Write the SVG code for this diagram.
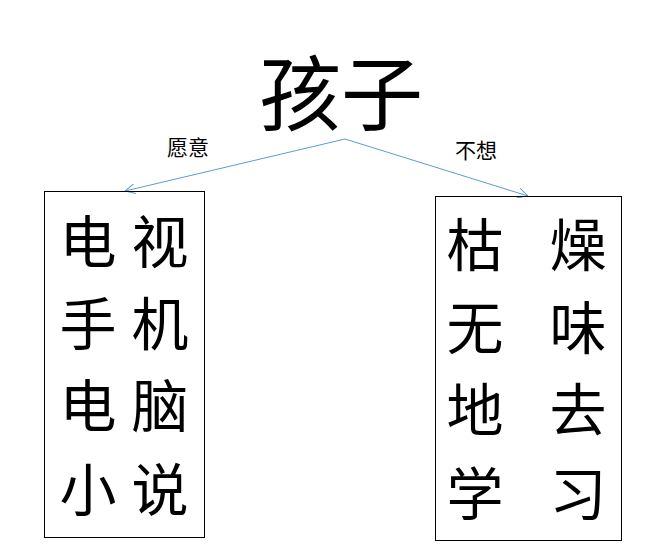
<svg xmlns="http://www.w3.org/2000/svg" width="664" height="547" viewBox="0 0 664 547">
<style>
.cjk{font-family:"Noto Sans CJK SC","Noto Sans CJK JP",serif;fill:#000;text-anchor:middle}
.big{font-size:57px}
.lbl{font-size:21px}
.box{fill:none;stroke:#000;stroke-width:1}
.conn{fill:none;stroke:#5B9BD5;stroke-width:1}
</style>
<defs>
<marker id="arr" viewBox="0 0 10 10" refX="10" refY="5" markerWidth="10" markerHeight="10" markerUnits="userSpaceOnUse" orient="auto">
<path d="M0,0 L10,5 L0,10" fill="none" stroke="#5B9BD5" stroke-width="1"/>
</marker>
</defs>
<rect width="664" height="547" fill="#fff"/>
<g id="title"><text class="cjk" x="341" y="124" font-size="82">孩子</text></g>
<g id="connectors">
<line class="conn" x1="345" y1="139" x2="125" y2="191" marker-end="url(#arr)"/>
<line class="conn" x1="345" y1="139" x2="528" y2="196" marker-end="url(#arr)"/>
<text class="cjk lbl" x="188" y="155">愿意</text>
<text class="cjk lbl" x="476" y="158">不想</text>
</g>
<g id="left">
<rect class="box" x="44.5" y="191.5" width="160" height="346"/>
<text class="cjk big" x="88" y="263">电</text><text class="cjk big" x="160" y="263">视</text>
<text class="cjk big" x="88" y="345">手</text><text class="cjk big" x="160" y="345">机</text>
<text class="cjk big" x="88" y="427">电</text><text class="cjk big" x="160" y="427">脑</text>
<text class="cjk big" x="88" y="511">小</text><text class="cjk big" x="160" y="511">说</text>
</g>
<g id="right">
<rect class="box" x="435.5" y="196.5" width="186" height="344"/>
<text class="cjk big" x="475" y="266">枯</text><text class="cjk big" x="578" y="266">燥</text>
<text class="cjk big" x="475" y="349">无</text><text class="cjk big" x="578" y="349">味</text>
<text class="cjk big" x="475" y="431">地</text><text class="cjk big" x="578" y="431">去</text>
<text class="cjk big" x="475" y="515">学</text><text class="cjk big" x="578" y="515">习</text>
</g>
</svg>
